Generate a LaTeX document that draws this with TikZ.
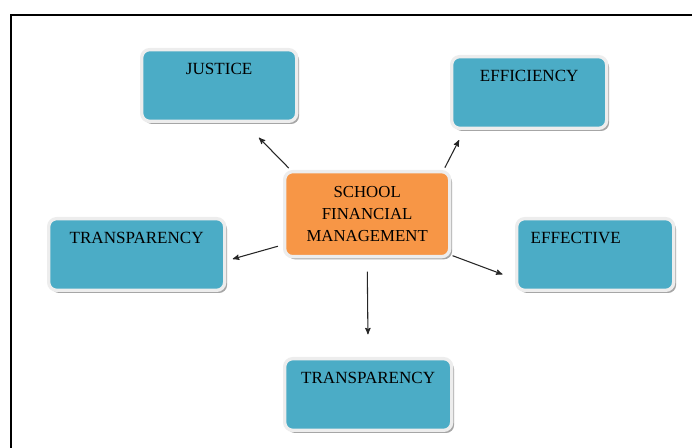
\documentclass[tikz,border=0pt]{standalone}
\usepackage{fontspec}
\setmainfont{Liberation Serif}
\usetikzlibrary{arrows}
\usetikzlibrary{shadows}
\definecolor{boxblue}{HTML}{4BACC6}
\definecolor{boxorange}{HTML}{F79646}

\begin{document}
\begin{tikzpicture}[x=0.75pt,y=-0.75pt,
  box/.style={draw=white!93!black, line width=2.5pt, rounded corners=6pt, inner xsep=0pt, inner ysep=0pt,
    anchor=north west, drop shadow={shadow xshift=1.8pt, shadow yshift=-2pt, fill=black, opacity=.35}},
  blubox/.style={box, fill=boxblue, text height=18.75pt, text depth=35pt, font=\fontsize{12.8}{14}\selectfont},
  arr/.style={->, >=stealth', line width=.8pt, black!85}]
\useasboundingbox (0,0) rectangle (692,448);
\draw[line width=1.5pt] (11,448)--(11,15)--(692,15);
% boxes round the centre
\node[blubox, minimum width=116.25pt] (jus) at (140,48) {JUSTICE};
\node[blubox, minimum width=116.25pt] (eff) at (450,55) {EFFICIENCY};
\node[blubox, minimum width=132pt] (tra1) at (47,217) {TRANSPARENCY};
\node[blubox, text width=96.75pt, inner xsep=10.5pt, align=left] (efv) at (515,217) {EFFECTIVE};
\node[blubox, minimum width=125.25pt] (tra2) at (283,357) {TRANSPARENCY};
% centre
\node[box, fill=boxorange, minimum width=123.75pt, minimum height=63.75pt, align=center,
  font=\fontsize{12.6}{16.5}\selectfont] (fm) at (283,170) {SCHOOL\\FINANCIAL\\MANAGEMENT};
% arrows
\draw[arr, shorten <=2pt, shorten >=15.5pt] (fm.150) -- (jus.-56);
\draw[arr, shorten <=2pt, shorten >=8.5pt] (fm.30) -- (eff.210);
\draw[arr, shorten <=4pt, shorten >=5pt] (fm.200) -- (tra1.-4);
\draw[arr, shorten <=1pt, shorten >=10pt] (fm.-26) -- (efv.197);
\draw[arr, shorten <=10pt, shorten >=17pt] (fm.south) -- (tra2.north);
\end{tikzpicture}
\end{document}
